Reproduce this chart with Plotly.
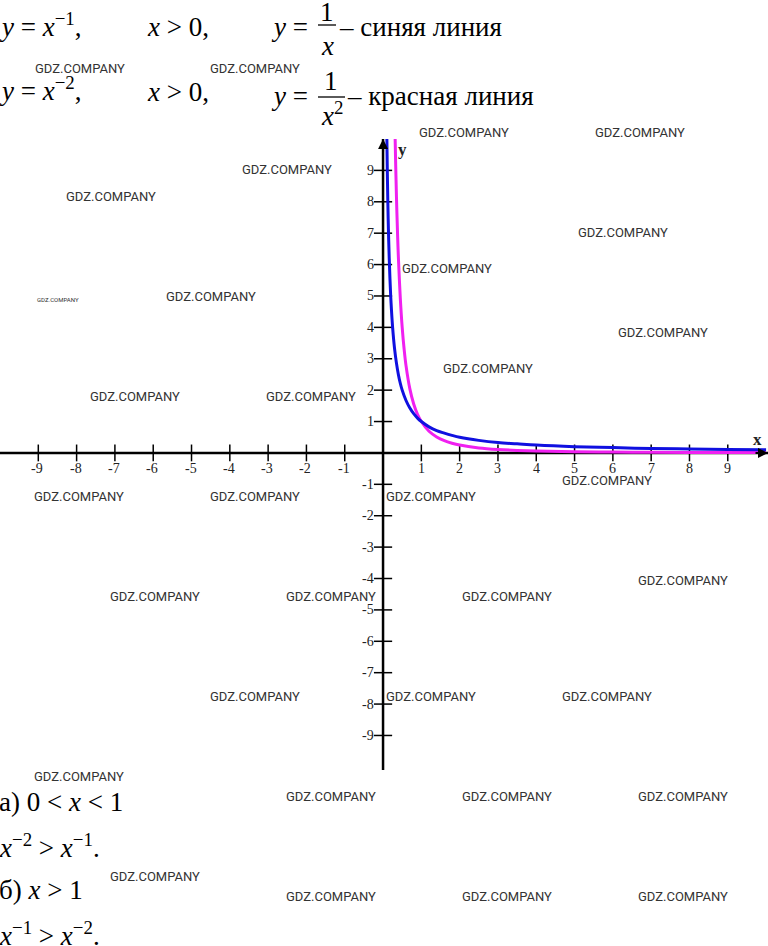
import plotly.graph_objects as go

# ---------------- data ----------------
# y = 1/x  (blue)
blue_x = [0.1, 0.11, 0.125, 0.14, 0.16, 0.18, 0.2, 0.22, 0.25, 0.3, 0.35, 0.4, 0.45, 0.5, 0.6, 0.7,
          0.8, 0.9, 1.0, 1.2, 1.4, 1.6, 1.8, 2.0, 2.5, 3.0, 3.5, 4.0, 5.0, 6.0, 7.0, 8.0, 9.0, 10.0]
blue_y = [10.0, 9.09, 8.0, 7.14, 6.25, 5.56, 5.0, 4.55, 4.0, 3.33, 2.86, 2.5, 2.22, 2.0, 1.67, 1.43,
          1.25, 1.11, 1.0, 0.83, 0.71, 0.63, 0.56, 0.5, 0.4, 0.33, 0.29, 0.25, 0.2, 0.17, 0.14, 0.125, 0.11, 0.1]
# y = 1/x^2 (magenta)
mag_x = [0.316, 0.33, 0.35, 0.38, 0.4, 0.45, 0.5, 0.55, 0.6, 0.7, 0.8, 0.9, 1.0, 1.2, 1.4, 1.6,
         1.8, 2.0, 2.5, 3.0, 3.5, 4.0, 5.0, 6.0, 7.0, 8.0, 9.0, 10.0]
mag_y = [10.0, 9.18, 8.16, 6.93, 6.25, 4.94, 4.0, 3.31, 2.78, 2.04, 1.56, 1.23, 1.0, 0.69, 0.51, 0.39,
         0.31, 0.25, 0.16, 0.11, 0.08, 0.06, 0.04, 0.03, 0.02, 0.016, 0.012, 0.01]

x_ticks = [-9, -8, -7, -6, -5, -4, -3, -2, -1, 1, 2, 3, 4, 5, 6, 7, 8, 9]
y_ticks = [9, 8, 7, 6, 5, 4, 3, 2, 1, -1, -2, -3, -4, -5, -6, -7, -8, -9]
x_tick_labels = ["-9", "-8", "-7", "-6", "-5", "-4", "-3", "-2", "-1", "1", "2", "3", "4", "5", "6", "7", "8", "9"]
y_tick_labels = ["9", "8", "7", "6", "5", "4", "3", "2", "1", "-1", "-2", "-3", "-4", "-5", "-6", "-7", "-8", "-9"]

X_RANGE = [-10.0, 10.05]
Y_RANGE = [-10.1, 10.0]

# ---------------- layout helpers ----------------
W, H = 768, 946
M_T, M_B = 139, 176
PLOT_H = H - M_T - M_B


def pp(x, y):
    """pixel position -> paper coordinates"""
    return x / W, (H - M_B - y) / PLOT_H


SERIF = "Liberation Serif, Times New Roman, serif"
WM_FONT = "Roboto, Liberation Sans Narrow, sans-serif"

fig = go.Figure()

# axes lines
fig.add_trace(go.Scatter(x=X_RANGE, y=[0, 0], mode="lines",
                         line=dict(color="black", width=2.5), hoverinfo="skip"))
fig.add_trace(go.Scatter(x=[0, 0], y=Y_RANGE, mode="lines",
                         line=dict(color="black", width=2.5), hoverinfo="skip"))
# tick marks
fig.add_trace(go.Scatter(x=x_ticks, y=[0] * len(x_ticks), mode="markers",
                         marker=dict(symbol="line-ns", size=12, line=dict(color="black", width=1.5)),
                         hoverinfo="skip"))
fig.add_trace(go.Scatter(x=[0] * len(y_ticks), y=y_ticks, mode="markers",
                         marker=dict(symbol="line-ew", size=13, line=dict(color="black", width=1.5)),
                         hoverinfo="skip"))

# curves
fig.add_trace(go.Scatter(x=mag_x, y=mag_y, mode="lines", line=dict(color="#f020f0", width=3, shape="spline"),
                         name="1/x²"))
fig.add_trace(go.Scatter(x=blue_x, y=blue_y, mode="lines", line=dict(color="#1010e0", width=3, shape="spline"),
                         name="1/x"))

annotations = []

# tick labels
for v, t in zip(x_ticks, x_tick_labels):
    annotations.append(dict(x=v, y=0, xref="x", yref="y", text=t, showarrow=False,
                            xanchor="center", yanchor="middle",
                            yshift=-16, xshift=-1 if v < 0 else 0,
                            font=dict(family=SERIF, size=14, color="#222")))
for v, t in zip(y_ticks, y_tick_labels):
    annotations.append(dict(x=0, y=v, xref="x", yref="y", text=t, showarrow=False,
                            xanchor="right", yanchor="middle", xshift=-7,
                            font=dict(family=SERIF, size=14, color="#222")))

# axis names
annotations.append(dict(x=757 / W, y=pp(0, 439)[1], xref="paper", yref="paper", text="<b>x</b>",
                        xanchor="center", yanchor="middle",
                        showarrow=False, font=dict(family=SERIF, size=17, color="#222")))
annotations.append(dict(x=402 / W, y=pp(0, 150)[1], xref="paper", yref="paper", text="<b>y</b>",
                        xanchor="center", yanchor="middle",
                        showarrow=False, font=dict(family=SERIF, size=17, color="#222")))

# arrowheads
annotations.append(dict(x=X_RANGE[1], y=0, xref="x", yref="y", ax=-14, ay=0, text="",
                        showarrow=True, arrowhead=2, arrowsize=1, arrowwidth=2, arrowcolor="black"))
annotations.append(dict(x=0, y=Y_RANGE[1], xref="x", yref="y", ax=0, ay=14, text="",
                        showarrow=True, arrowhead=2, arrowsize=1, arrowwidth=2, arrowcolor="black"))


def txt(x, y, s, size=27, anchor="left", yanchor="middle"):
    px_, py_ = pp(x, y)
    annotations.append(dict(x=px_, y=py_, xref="paper", yref="paper", text=s, showarrow=False,
                            xanchor=anchor, yanchor=yanchor,
                            font=dict(family=SERIF, size=size, color="black")))


# top formulas
txt(-3, 25, "<i>y</i> = <i>x</i><sup>−1</sup>,")
txt(145, 27, "<i>x</i> > 0,")
txt(269, 27, "<i>y</i> =")
txt(327, 12, "1", anchor="center")
txt(327, 46, "<i>x</i>", anchor="center")
txt(337, 27, "– синяя линия")

txt(-3, 89, "<i>y</i> = <i>x</i><sup>−2</sup>,")
txt(145, 92, "<i>x</i> > 0,")
txt(269, 96, "<i>y</i> =")
txt(331, 81, "1", anchor="center")
txt(332, 114, "<i>x</i><sup>2</sup>", anchor="center")
txt(345, 96, "– красная линия")

# bottom answer text
txt(-3, 802, "а) 0 < <i>x</i> < 1")
txt(-3, 846, "<i>x</i><sup>−2</sup> > <i>x</i><sup>−1</sup>.")
txt(-3, 890, "б) <i>x</i> > 1")
txt(-3, 934, "<i>x</i><sup>−1</sup> > <i>x</i><sup>−2</sup>.")

# fraction bars
shapes = []
for x0, x1, y in [(318, 336, 25), (318, 345, 97)]:
    a = pp(x0, y)
    b = pp(x1, y)
    shapes.append(dict(type="line", xref="paper", yref="paper", x0=a[0], y0=a[1], x1=b[0], y1=b[1],
                       line=dict(color="black", width=1.3)))

# watermarks (pixel centres)
WATERMARKS = [(80, 68), (255, 68), (464, 132), (640, 132), (287, 169), (111, 196), (623, 232),
              (447, 268), (211, 296), (663, 332), (488, 368), (135, 396), (311, 396), (607, 480),
              (79, 496), (255, 496), (431, 496), (683, 580), (155, 596), (331, 596), (507, 596),
              (255, 696), (431, 696), (607, 696), (79, 776), (331, 796), (507, 796), (683, 796),
              (155, 876), (331, 896), (507, 896), (683, 896)]
for cx, cy in WATERMARKS:
    px_, py_ = pp(cx, cy)
    annotations.append(dict(x=px_, y=py_, xref="paper", yref="paper", text="GDZ.COMPANY", showarrow=False,
                            xanchor="center", yanchor="middle",
                            font=dict(family=WM_FONT, size=13, color="#333")))
px_, py_ = pp(58, 299)
annotations.append(dict(x=px_, y=py_, xref="paper", yref="paper", text="GDZ.COMPANY", showarrow=False,
                        xanchor="center", yanchor="middle",
                        font=dict(family=WM_FONT, size=6, color="#333")))

fig.update_layout(
    width=W, height=H,
    margin=dict(l=0, r=0, t=M_T, b=M_B, pad=0),
    paper_bgcolor="white", plot_bgcolor="white",
    showlegend=False,
    xaxis=dict(range=X_RANGE, visible=False, showgrid=False, zeroline=False),
    yaxis=dict(range=Y_RANGE, visible=False, showgrid=False, zeroline=False),
    annotations=annotations,
    shapes=shapes,
)

fig.write_html("out.html", config={"displayModeBar": False},
               post_script="document.body.style.margin='0';document.body.style.overflow='hidden';")
